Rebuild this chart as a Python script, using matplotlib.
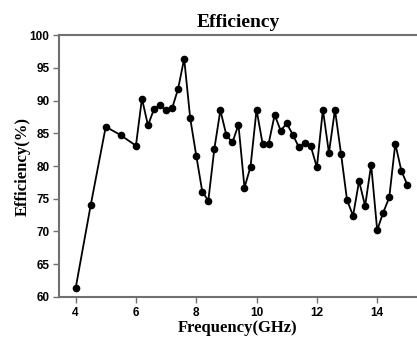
import matplotlib.pyplot as plt

# frequency points (GHz) and measured efficiency (%)
freq = [4.0, 4.5, 5.0, 5.5, 6.0, 6.2, 6.4, 6.6, 6.8, 7.0, 7.2, 7.4, 7.6, 7.8,
        8.0, 8.2, 8.4, 8.6, 8.8, 9.0, 9.2, 9.4, 9.6, 9.8, 10.0, 10.2, 10.4,
        10.6, 10.8, 11.0, 11.2, 11.4, 11.6, 11.8, 12.0, 12.2, 12.4, 12.6,
        12.8, 13.0, 13.2, 13.4, 13.6, 13.8, 14.0, 14.2, 14.4, 14.6, 14.8, 15.0]
eff = [61.3, 74.0, 86.0, 84.7, 83.1, 90.3, 86.2, 88.7, 89.3, 88.5, 88.8, 91.8,
       96.4, 87.3, 81.6, 76.1, 74.7, 82.6, 88.5, 84.7, 83.6, 86.3, 76.7, 79.9,
       88.6, 83.4, 83.4, 87.8, 85.4, 86.5, 84.8, 82.9, 83.5, 83.0, 79.8, 88.6,
       82.0, 88.6, 81.9, 74.8, 72.4, 77.7, 73.9, 80.2, 70.2, 72.9, 75.2, 83.4,
       79.3, 77.1]

xticks = [4, 6, 8, 10, 12, 14]
yticks = [60, 65, 70, 75, 80, 85, 90, 95, 100]

fig = plt.figure(figsize=(4.17, 3.4), dpi=100)
ax = fig.add_axes([0.1415, 0.1265, 0.8585, 0.7705])

ax.plot(freq, eff, color='black', linewidth=1.3, marker='o', markersize=4.5)

ax.set_xlim(3.45, 15.32)
ax.set_ylim(60, 100)
ax.set_xticks(xticks)
ax.set_yticks(yticks)
ax.set_xticklabels([str(t) for t in xticks], fontfamily='Liberation Sans',
                   fontweight='bold', fontsize=8.5)
ax.set_yticklabels([str(t) for t in yticks], fontfamily='Liberation Sans',
                   fontweight='bold', fontsize=8.5)

for s in ['left', 'bottom', 'top']:
    ax.spines[s].set_color('#707070')
    ax.spines[s].set_linewidth(1.5)
ax.spines['right'].set_visible(False)
ax.tick_params(axis='both', direction='out', length=4, width=1, color='#707070', pad=3)

ax.set_title('Efficiency', fontfamily='Liberation Serif', fontweight='bold',
             fontsize=14, pad=6)
ax.set_xlabel('Frequency(GHz)', fontfamily='Liberation Serif', fontweight='bold',
              fontsize=12, labelpad=1)
ax.set_ylabel('Efficiency(%)', fontfamily='Liberation Serif', fontweight='bold',
              fontsize=12, labelpad=-1)

fig.savefig('out.png', dpi=100)
